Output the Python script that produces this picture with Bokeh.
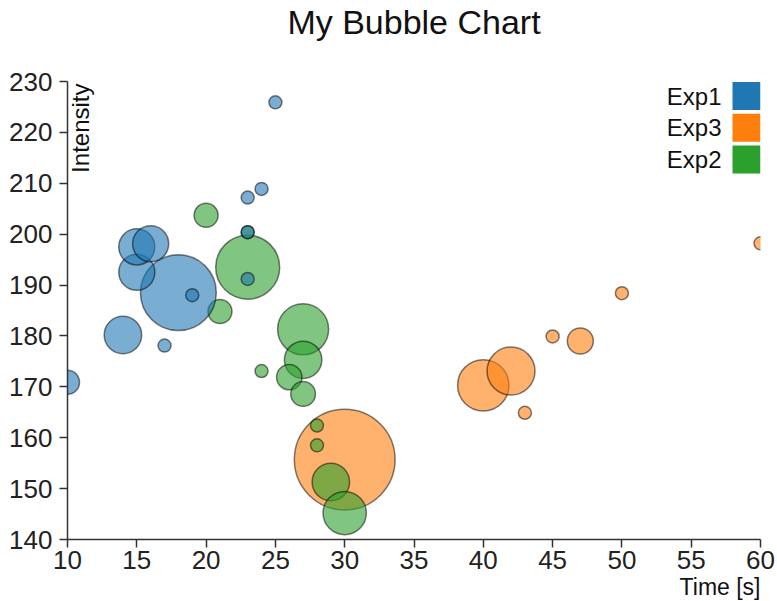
import numpy as np
from bokeh.plotting import figure
from bokeh.models import ColumnDataSource, Label, FixedTicker, Range1d, Title
from bokeh.core.properties import value
from bokeh.embed import file_html
from bokeh.resources import INLINE

# ---- data -------------------------------------------------------------
series_names = ["Exp1", "Exp3", "Exp2"]
series_colors = ["#1f77b4", "#ff7f0e", "#2ca02c"]

exp1_time = [10, 14, 17, 18, 19, 15, 15, 16, 23, 23, 23, 24, 25]
exp1_intensity = [170.9, 180.2, 178.1, 188.5, 188.0, 192.5, 197.5, 198.1,
                  191.2, 200.4, 207.2, 208.9, 225.9]
exp1_size = [3.4, 8.3, 1, 34, 1, 7.7, 7.7, 7.7, 1, 1, 1, 1, 1]

exp3_time = [30, 40, 42, 43, 45, 47, 50, 60]
exp3_intensity = [155.7, 170.3, 173.1, 164.9, 179.9, 179.0, 188.4, 198.2]
exp3_size = [60, 15.6, 13.6, 1, 1, 4, 1, 1]

exp2_time = [20, 21, 23, 23, 24, 27, 27, 26, 27, 28, 28, 29, 30]
exp2_intensity = [203.7, 184.8, 193.5, 200.4, 173.1, 181.3, 175.3, 171.9,
                  168.6, 162.4, 158.5, 151.3, 145.2]
exp2_size = [3.4, 3.4, 24.2, 1, 1, 15.4, 8.3, 3.8, 3.6, 1, 1, 8.3, 11.1]

x_ticks = [10, 15, 20, 25, 30, 35, 40, 45, 50, 55, 60]
y_ticks = [140, 150, 160, 170, 180, 190, 200, 210, 220, 230]

series = {
    "Exp1": (exp1_time, exp1_intensity, exp1_size),
    "Exp3": (exp3_time, exp3_intensity, exp3_size),
    "Exp2": (exp2_time, exp2_intensity, exp2_size),
}
color_of = dict(zip(series_names, series_colors))
draw_order = ["Exp3", "Exp2", "Exp1"]   # later series are painted on top

# ---- figure -----------------------------------------------------------
FONT = "Liberation Sans"
W, H = 777, 601
LEFT, RIGHT, TOP, BOTTOM = 67, 17, 81, 62
FRAME_W, FRAME_H = W - LEFT - RIGHT, H - TOP - BOTTOM
X0, X1 = x_ticks[0], x_ticks[-1]
Y0, Y1 = y_ticks[0], y_ticks[-1]
px_x = FRAME_W / (X1 - X0)
px_y = FRAME_H / (Y1 - Y0)

p = figure(width=W, height=H, output_backend="svg", toolbar_location=None,
           x_range=Range1d(X0, X1), y_range=Range1d(Y0, Y1),
           min_border_left=LEFT, min_border_right=RIGHT,
           min_border_top=TOP, min_border_bottom=BOTTOM,
           background_fill_color="white", border_fill_color="white")
p.title = None

# spacer panel next to the frame pushes the chart title up to the top edge
p.add_layout(Title(text=" ", text_font_size="1px", standoff=34), "above")
p.add_layout(Title(text="My Bubble Chart", align="center", vertical_align="top",
                   text_font=FONT, text_font_size="34px",
                   text_font_style="normal", text_color="#111111",
                   standoff=4), "above")

p.outline_line_color = None
p.xgrid.visible = False
p.ygrid.visible = False

for ax, ticks in ((p.xaxis, x_ticks), (p.yaxis, y_ticks)):
    ax.ticker = FixedTicker(ticks=ticks)
    ax.major_label_text_font = FONT
    ax.major_label_text_font_size = "26px"
    ax.major_label_text_color = "#222222"
    ax.major_tick_in = 0
    ax.major_tick_out = 8
    ax.minor_tick_line_color = None
    ax.axis_line_color = "#333333"
    ax.axis_line_width = 1.5
    ax.major_tick_line_color = "#333333"
    ax.major_tick_line_width = 1.5
p.xaxis.major_label_standoff = 3
p.yaxis.major_label_standoff = 7

# ---- bubbles (radius grows with the square root of the size value) ----
R_UNIT = 6.5
for name in draw_order:
    t, inten, size = series[name]
    src = ColumnDataSource(dict(x=t, y=inten,
                                d=2 * R_UNIT * np.sqrt(np.asarray(size, float))))
    p.scatter("x", "y", size="d", source=src, fill_color=color_of[name],
              fill_alpha=0.6, line_color="black", line_alpha=0.5, line_width=1.5)

# ---- legend: label on the left, swatch on the right -------------------
SW = 28
STEP = 31.7
leg_x_sw = X1 - (SW / 2) / px_x
leg_x_txt = X1 - (SW + 11) / px_x
leg_y = [Y1 - (14.5 + i * STEP) / px_y for i in range(len(series_names))]
p.scatter(x=[leg_x_sw] * len(series_names), y=leg_y, marker="square", size=SW,
          fill_color=series_colors, line_color=None)
p.text(x=[leg_x_txt] * len(series_names), y=leg_y, text=series_names,
       text_align="right", text_baseline="middle",
       text_font=value(FONT), text_font_size="24px", text_color="#111111")

# ---- axis titles ------------------------------------------------------
p.add_layout(Label(x=X0, y=Y1, x_offset=13, y_offset=-2, angle=np.pi / 2,
                   text="Intensity", text_align="right",
                   text_baseline="alphabetic", text_font=FONT,
                   text_font_size="24px", text_color="#111111"))
p.add_layout(Title(text="Time [s]", align="right", vertical_align="bottom",
                   text_font=FONT, text_font_size="23px",
                   text_font_style="normal", text_color="#111111",
                   standoff=0), "below")

open("out.html", "w").write(file_html(p, INLINE))
